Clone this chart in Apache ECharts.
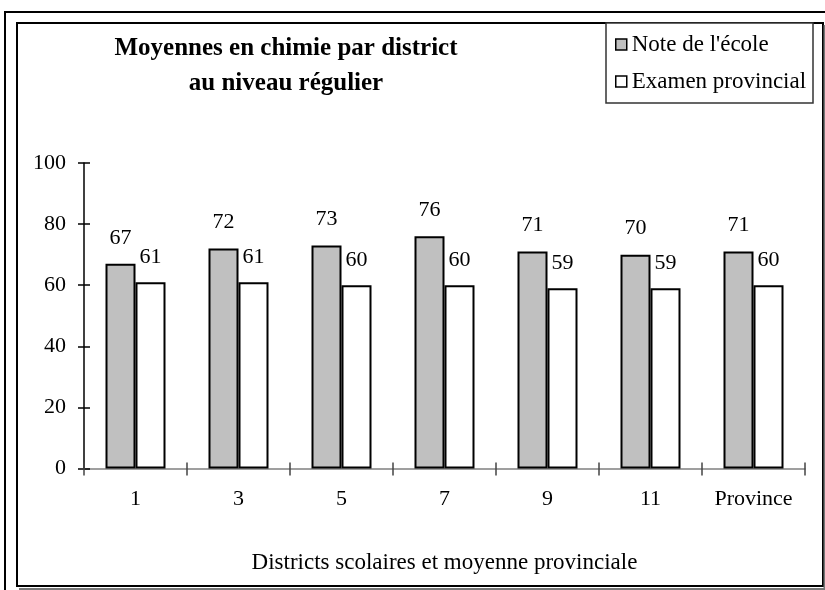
<!DOCTYPE html>
<html>
<head>
<meta charset="utf-8">
<script src="https://cdn.jsdelivr.net/npm/echarts@6/dist/echarts.min.js"></script>
<style>
  html, body { margin: 0; padding: 0; background: #fff; }
  #chart { width: 825px; height: 590px; }
</style>
</head>
<body>
<div id="chart"></div>
<script>
var categories = ['1', '3', '5', '7', '9', '11', 'Province'];
var noteEcole = [67, 72, 73, 76, 71, 70, 71];
var examenProvincial = [61, 61, 60, 60, 59, 59, 60];
var yMin = 0, yMax = 100, yStep = 20;

var serif = '"Liberation Serif", "Times New Roman", serif';
var chart = echarts.init(document.getElementById('chart'));

var option = {
	backgroundColor: '#fff',
	animation: false,
	textStyle: { fontFamily: serif, color: '#000' },
	grid: { left: 84, right: 20, top: 163, bottom: 121.5 },
	graphic: [
		{	// cadre extérieur
			type: 'polyline', z: 0, silent: true,
			shape: { points: [[5, 590], [5, 12], [825, 12]] },
			style: { stroke: '#000', lineWidth: 2, fill: null }
		},
		{	// cadre du graphique
			type: 'rect', z: 0, silent: true,
			shape: { x: 17, y: 23, width: 806, height: 563 },
			style: { stroke: '#000', lineWidth: 2, fill: '#fff' }
		},
		{
			type: 'polyline', z: 0, silent: true,
			shape: { points: [[19, 589], [824.5, 589], [824.5, 25]] },
			style: { stroke: '#777', lineWidth: 2, fill: null }
		},
		{	// boîte de la légende
			type: 'rect', z: 1, silent: true,
			shape: { x: 606, y: 23, width: 207, height: 80 },
			style: { stroke: '#333', lineWidth: 1.5, fill: '#fff' }
		},
		{
			type: 'text', z: 5, silent: true,
			x: 286, y: 66.5,
			style: {
				text: 'Moyennes en chimie par district\nau niveau régulier',
				font: 'bold 25px ' + serif,
				fill: '#000',
				align: 'center',
				verticalAlign: 'middle',
				lineHeight: 35
			}
		}
	],
	legend: {
		orient: 'vertical',
		left: 615,
		top: 33,
		padding: 0,
		itemWidth: 11,
		itemHeight: 11,
		itemGap: 14,
		icon: 'rect',
		itemStyle: { borderColor: '#000', borderWidth: 1.5 },
		textStyle: { fontFamily: serif, fontSize: 23, color: '#000' },
		data: ["Note de l'école", 'Examen provincial']
	},
	xAxis: [
		{
			type: 'category',
			data: categories,
			name: 'Districts scolaires et moyenne provinciale',
			nameLocation: 'middle',
			nameGap: 83,
			nameTextStyle: { fontFamily: serif, fontSize: 23, color: '#000' },
			axisLine: { lineStyle: { color: '#808080', width: 1.5 } },
			axisTick: { show: true, length: 7, lineStyle: { color: '#444', width: 1.5 } },
			axisLabel: { fontFamily: serif, fontSize: 22, color: '#000', margin: 20 }
		},
		{	// tirets croisés (partie intérieure)
			type: 'category',
			data: categories,
			position: 'bottom',
			axisLine: { show: false },
			axisTick: { show: true, inside: true, length: 6, lineStyle: { color: '#444', width: 1.5 } },
			axisLabel: { show: false }
		}
	],
	yAxis: [
		{
			type: 'value',
			min: yMin, max: yMax, interval: yStep,
			splitLine: { show: false },
			axisLine: { show: true, lineStyle: { color: '#000', width: 1.5 } },
			axisTick: { show: true, length: 6, lineStyle: { color: '#000', width: 1.5 } },
			axisLabel: { fontFamily: serif, fontSize: 22, color: '#000', margin: 18 }
		},
		{
			type: 'value',
			position: 'left',
			min: yMin, max: yMax, interval: yStep,
			splitLine: { show: false },
			axisLine: { show: false },
			axisTick: { show: true, inside: true, length: 6, lineStyle: { color: '#000', width: 1.5 } },
			axisLabel: { show: false }
		}
	],
	series: [
		{
			name: "Note de l'école",
			type: 'bar',
			data: noteEcole,
			barWidth: 30,
			barGap: '0%',
			itemStyle: { color: '#c0c0c0', borderColor: '#000', borderWidth: 2 },
			label: {
				show: true, position: 'top', distance: 15,
				fontFamily: serif, fontSize: 22, color: '#000'
			}
		},
		{
			name: 'Examen provincial',
			type: 'bar',
			data: examenProvincial,
			barWidth: 30,
			barGap: '0%',
			itemStyle: { color: '#fff', borderColor: '#000', borderWidth: 2 },
			label: {
				show: true, position: 'top', distance: 14,
				fontFamily: serif, fontSize: 22, color: '#000'
			}
		}
	]
};

chart.setOption(option);
</script>
</body>
</html>
